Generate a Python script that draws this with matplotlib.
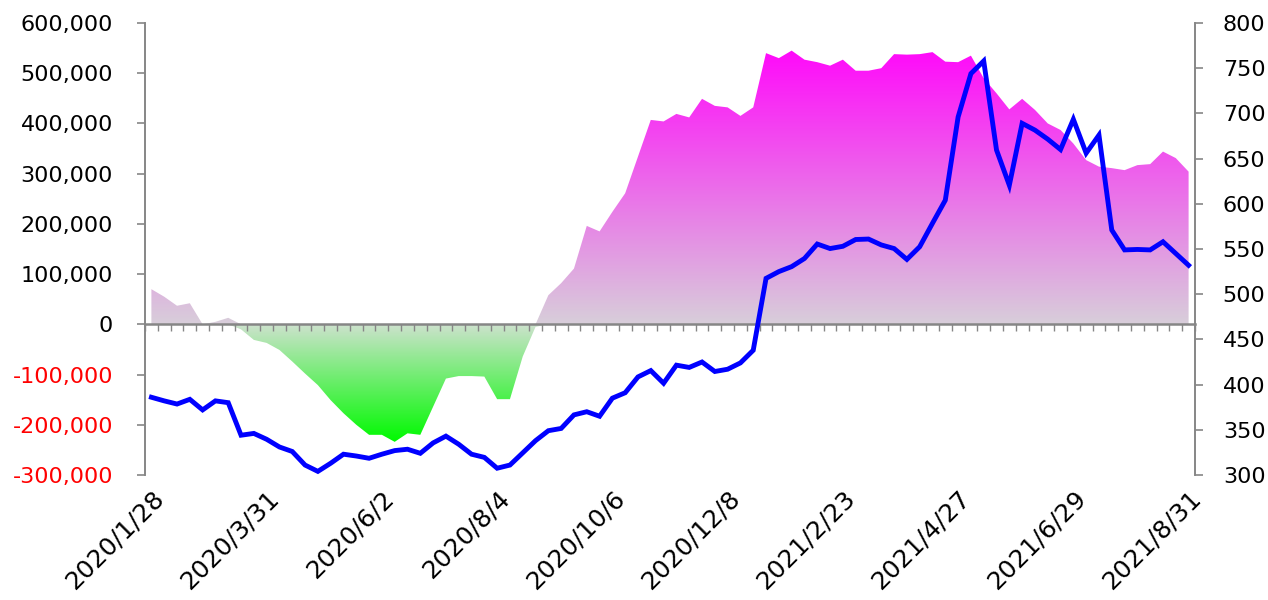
import numpy as np
import pandas as pd
import matplotlib
matplotlib.use('Agg')
import matplotlib.pyplot as plt

plt.rcParams['font.family'] = ['DejaVu Sans']

# ---- categories (weekly, two holiday weeks missing) ----
weeks = pd.date_range('2020-01-28', '2021-08-31', freq='7D')
weeks = weeks.drop(pd.to_datetime(['2021-02-09', '2021-02-16']))
categories = [f"{d.year}/{d.month}/{d.day}" for d in weeks]
label_step = 9

# ---- area series (left axis) ----
spread = [70000, 55000, 37000, 42000, 0, 5000, 13000, -10000, -31000, -37000,
          -51000, -74000, -98000, -121000, -151000, -177000, -200000, -220000, -220000, -234000,
          -217000, -220000, -164000, -108000, -103000, -103000, -104000, -149000, -149000, -64000,
          -5000, 58000, 82000, 111000, 196000, 185000, 224000, 261000, 334000, 407000,
          404000, 419000, 412000, 449000, 435000, 432000, 415000, 432000, 540000, 530000,
          545000, 527000, 522000, 515000, 527000, 505000, 505000, 510000, 538000, 537000,
          538000, 542000, 523000, 522000, 535000, 490000, 460000, 428000, 449000, 427000,
          400000, 387000, 360000, 327000, 314000, 311000, 307000, 317000, 319000, 344000,
          331000, 304000]

# ---- line series (right axis) ----
price = [386, 382, 378.5, 383.7, 372, 382, 380, 344, 346, 339.5,
         331, 326, 311, 304, 313, 323, 321, 318.5, 323, 327,
         328.5, 324, 335.5, 343, 334, 323, 319.5, 307.5, 311, 324.5,
         338, 349, 351.5, 366.5, 370, 365, 385, 391, 408.5, 415.5,
         401.5, 421.5, 419, 425, 414.5, 417, 424, 438, 517.5, 525,
         530.5, 539.5, 555.5, 550.5, 553, 560.5, 561, 554.5, 550.5, 538.5,
         552.5, 578.5, 604, 696, 744, 758, 659.5, 620.5, 689, 681.5,
         671.5, 660, 693.5, 656, 676, 571, 549, 549.5, 549, 558,
         545, 532]

left_ticks = list(range(-300000, 600001, 100000))
right_ticks = list(range(300, 801, 50))

GRAY = '#868686'
W, H = 1268, 600
fig = plt.figure(figsize=(W / 100, H / 100), dpi=100)
ax = fig.add_axes([145 / W, 1 - 475 / H, (1195 - 145) / W, (475 - 23) / H])

x = np.arange(len(categories))
s = np.array(spread, dtype=float)
xlo, xhi = -0.5, len(categories) - 0.5
ylo, yhi = left_ticks[0], left_ticks[-1]


def gradient(c_bottom, c_top, n=256):
    t = np.linspace(0, 1, n)[:, None]
    c0 = np.array(c_bottom, dtype=float) / 255
    c1 = np.array(c_top, dtype=float) / 255
    return (c0 + (c1 - c0) * t)[:, None, :]


# positive part: gray-lavender -> magenta
pos = ax.fill_between(x, np.maximum(s, 0), 0, facecolor='none', edgecolor='none', lw=0)
im_pos = ax.imshow(gradient((216, 206, 218), (255, 10, 250)), origin='lower', aspect='auto',
                   extent=[xlo, xhi, 0, s.max()], interpolation='bilinear', zorder=1)
im_pos.set_clip_path(pos.get_paths()[0], ax.transData)

# negative part: light gray-green -> bright green
neg = ax.fill_between(x, np.minimum(s, 0), 0, facecolor='none', edgecolor='none', lw=0)
im_neg = ax.imshow(gradient((0, 250, 0), (205, 226, 205)), origin='lower', aspect='auto',
                   extent=[xlo, xhi, s.min(), 0], interpolation='bilinear', zorder=1)
im_neg.set_clip_path(neg.get_paths()[0], ax.transData)

ax.set_xlim(xlo, xhi)
ax.set_ylim(ylo, yhi)

# left axis
ax.set_yticks(left_ticks)
ax.set_yticklabels([f"{v:,}" for v in left_ticks])
for v, lab in zip(left_ticks, ax.get_yticklabels()):
    lab.set_color('#FF0000' if v < 0 else '#000000')
ax.tick_params(axis='y', direction='out', length=6, width=1.2, color=GRAY,
               labelsize=16, pad=17)
for side in ('top', 'right', 'bottom'):
    ax.spines[side].set_visible(False)
ax.spines['left'].set_color(GRAY)
ax.spines['left'].set_linewidth(1.4)

# x labels at the bottom
ax.set_xticks(x[::label_step])
ax.set_xticklabels(categories[::label_step], rotation=45, ha='right', va='top',
                   rotation_mode='anchor')
ax.tick_params(axis='x', length=0, labelsize=18, pad=8)

# zero line with category boundary ticks
sec = ax.secondary_xaxis(-ylo / (yhi - ylo))
sec.set_zorder(2)
sec.set_xticks(np.arange(xlo, xhi + 0.01, 1.0))
sec.tick_params(axis='x', direction='out', length=5, width=1.0, color=GRAY,
                labelbottom=False, labeltop=False)
for side, sp in sec.spines.items():
    sp.set_visible(side == 'bottom')
sec.spines['bottom'].set_color(GRAY)
sec.spines['bottom'].set_linewidth(1.8)

# right axis with line
ax2 = ax.twinx()
ax2.plot(x, price, color='#0000FF', lw=3.5, solid_joinstyle='miter', zorder=3)
ax2.set_ylim(right_ticks[0], right_ticks[-1])
ax2.set_yticks(right_ticks)
ax2.set_yticklabels([str(v) for v in right_ticks])
ax2.tick_params(axis='y', direction='out', length=6, width=1.2, color=GRAY,
                labelsize=16, pad=14)
for side in ('top', 'left', 'bottom'):
    ax2.spines[side].set_visible(False)
ax2.spines['right'].set_color(GRAY)
ax2.spines['right'].set_linewidth(1.4)
ax2.set_xlim(xlo, xhi)

fig.savefig('out.png', dpi=100, facecolor='white')
